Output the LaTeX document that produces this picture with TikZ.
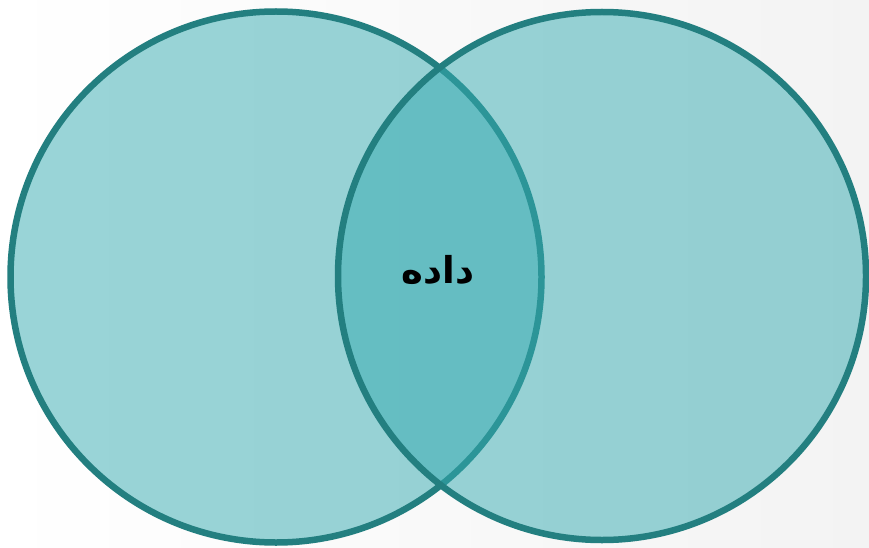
\documentclass[tikz,border=0pt]{standalone}
\usepackage{fontspec}
\newfontfamily\arabicfont[Script=Arabic]{DejaVu Sans}
\TeXXeTstate=1
\definecolor{vfill}{HTML}{35ABB1}
\definecolor{vline}{HTML}{237F80}
\definecolor{bgend}{HTML}{F3F3F3}
\tikzset{
  venn/.style={fill=vfill, fill opacity=0.5, draw=vline, draw opacity=1, line width=6.5pt},
  lbl/.style={font=\arabicfont\bfseries\fontsize{37}{44}\selectfont, text=black}
}
\begin{document}
\begin{tikzpicture}[x=1pt,y=-1pt]
\useasboundingbox (0,0) rectangle (869,548);
\shade[shading=axis, shading angle=120, left color=white, right color=bgend] (0,0) rectangle (869,548);
\node[venn, circle, minimum size=531pt, inner sep=0pt] (L) at (276,277) {};
\node[venn, circle, minimum size=528pt, inner sep=0pt] (R) at (602,276) {};
\node[lbl] (t) at (438,270) {\beginR داده\endR};
\end{tikzpicture}
\end{document}
